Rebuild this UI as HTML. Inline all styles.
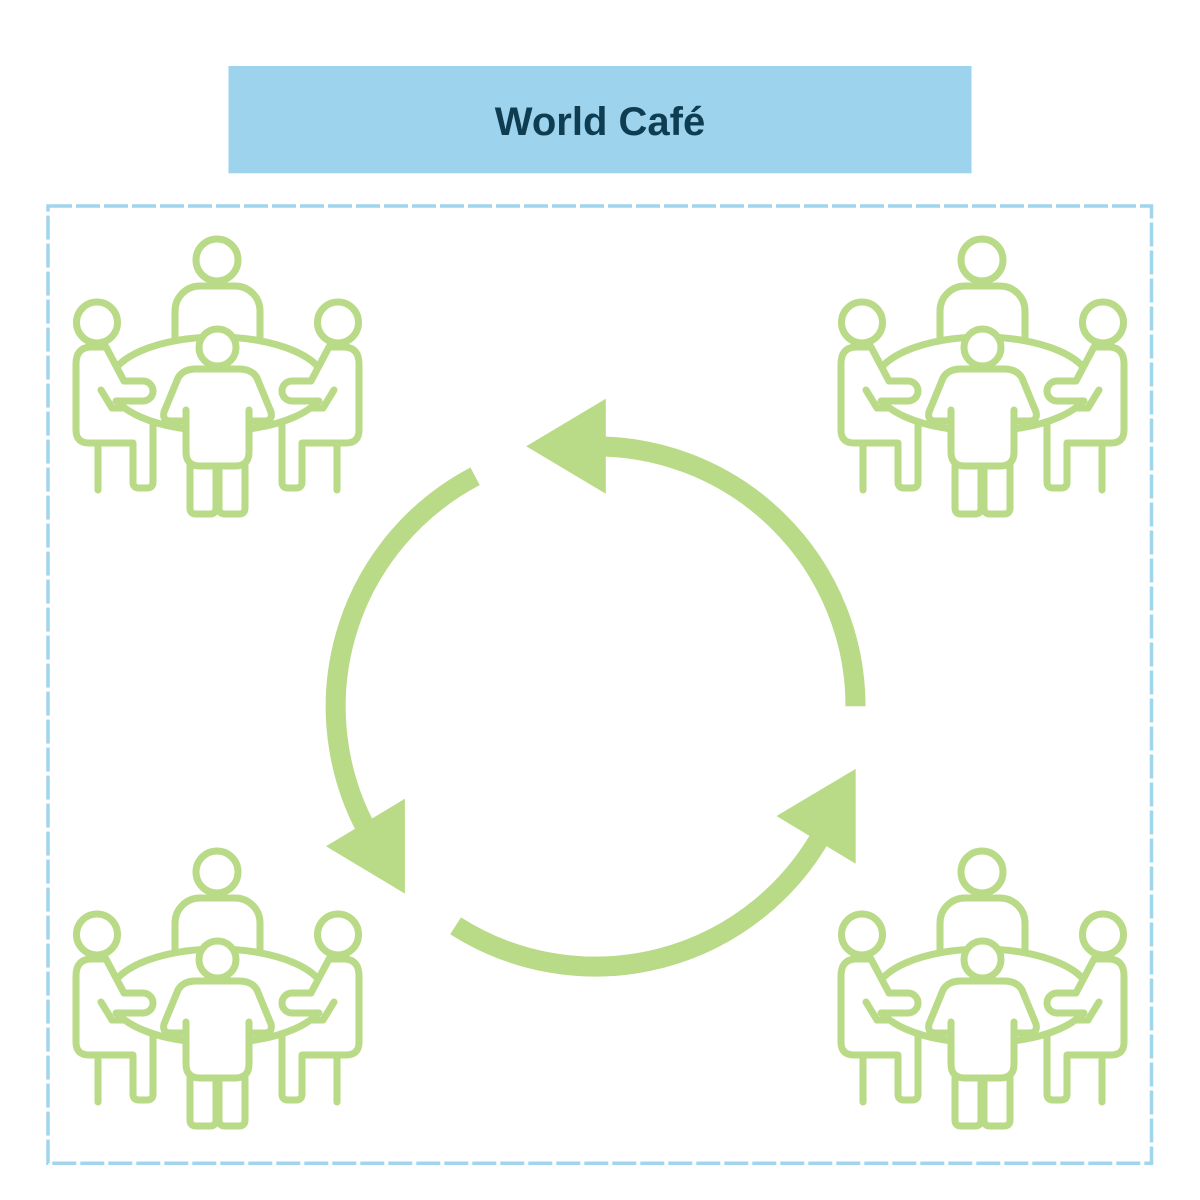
<!DOCTYPE html>
<html>
<head>
<meta charset="utf-8">
<style>
  html,body{margin:0;padding:0;background:#fff;}
  svg{display:block;}
</style>
</head>
<body>
<svg width="1200" height="1200" viewBox="0 0 1200 1200" xmlns="http://www.w3.org/2000/svg" xmlns:xlink="http://www.w3.org/1999/xlink">
  <rect width="1200" height="1200" fill="#ffffff"/>

  <!-- Title -->
  <rect x="228.5" y="66" width="743" height="107.3" fill="#9dd3ec"/>
  <text x="600" y="135" text-anchor="middle" font-family="Liberation Sans, Arial, sans-serif" font-weight="bold" font-size="40" fill="#0e3c51">World Café</text>

  <!-- Dashed frame -->
  <rect x="48" y="206" width="1103.5" height="957.3" fill="none" stroke="#a1d4ed" stroke-width="3.5" stroke-dasharray="24 4"/>

  <defs>
    <g id="side" fill="none" stroke="#b9da86" stroke-width="7" stroke-linecap="round" stroke-linejoin="round">
      <path d="M90,346 Q76,348 76,364 V430 Q76,443 89,443 H118 V366 L106,347 Z" fill="#ffffff" stroke="none"/>
      <circle cx="97" cy="322.5" r="20.5" fill="#ffffff"/>
      <path d="M124,381 L106,347 H90 Q76,348 76,364 V430 Q76,443 89,443 H133 V482 Q133,488 139,488 H147 Q153,488 153,482 V422"/>
      <path d="M124,381 H143 A10,10 0 0 1 143,401 H116"/>
      <path d="M101,390 L112,408 H124"/>
      <path d="M98,443 V490"/>
    </g>
    <g id="icon" fill="none" stroke="#b9da86" stroke-width="7" stroke-linecap="round" stroke-linejoin="round">
      <!-- back person -->
      <circle cx="217" cy="260" r="21" fill="#ffffff"/>
      <path d="M175,341 V311 A25,25 0 0 1 200,286 H235 A25,25 0 0 1 260,311 V341"/>
      <!-- table -->
      <ellipse cx="217.5" cy="384" rx="108" ry="47" fill="#ffffff"/>
      <!-- side persons -->
      <use xlink:href="#side" href="#side"/>
      <use xlink:href="#side" href="#side" transform="translate(435,0) scale(-1,1)"/>
      <!-- front person -->
      <path d="M164,412 L178,378 Q183,369 196,369 H239 Q252,369 257,378 L271,412 Q273,421 264,421 L249,421 V452 Q249,466 235,466 H200 Q186,466 186,452 V421 L171,421 Q162,421 164,412 Z" fill="#ffffff" stroke="none"/>
      <path d="M184,421 H171 Q162,421 164,412 L178,378 Q183,369 196,369 H239 Q252,369 257,378 L271,412 Q273,421 264,421 H251"/>
      <path d="M186,410 V452 Q186,466 200,466 H235 Q249,466 249,452 V410"/>
      <path d="M190,466 V508 Q190,514 196,514 H210 Q216,514 216,508 V466"/>
      <path d="M219,466 V508 Q219,514 225,514 H239 Q245,514 245,508 V466"/>
      <circle cx="217.5" cy="347.5" r="18.5" fill="#ffffff"/>
    </g>
  </defs>

  <use xlink:href="#icon" href="#icon"/>
  <use xlink:href="#icon" href="#icon" transform="translate(765,0)"/>
  <use xlink:href="#icon" href="#icon" transform="translate(0,612)"/>
  <use xlink:href="#icon" href="#icon" transform="translate(765,612)"/>

  <!-- Cycle arrows -->
  <g fill="none" stroke="#b9da86" stroke-width="20" stroke-linecap="butt">
    <path d="M855.5,706.3 A260,260 0 0 0 590.5,446.4"/>
    <path d="M475.1,476.3 A260,260 0 0 0 375,844.1"/>
    <path d="M455.6,925.8 A260,260 0 0 0 825.1,828.4"/>
  </g>
  <g fill="#b9da86">
    <polygon points="605.8,398.8 605.8,493.7 526.2,446.3"/>
    <polygon points="404.9,798.7 404.9,893.6 326,846.2"/>
    <polygon points="855.7,768.9 855.7,863.8 776.5,816"/>
  </g>
</svg>
</body>
</html>
